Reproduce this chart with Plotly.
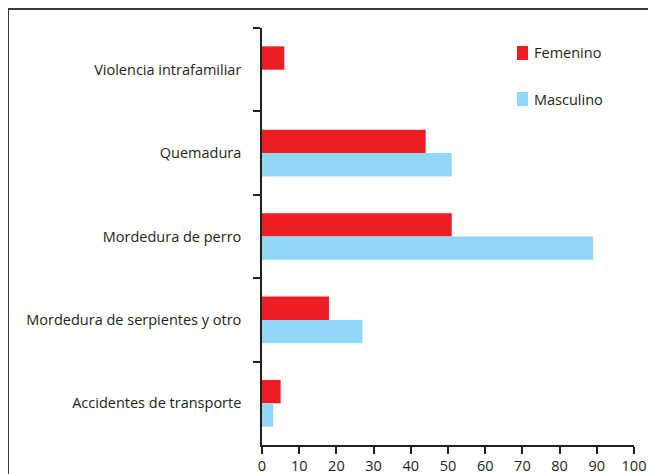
import plotly.graph_objects as go

categories = ["Violencia intrafamiliar", "Quemadura", "Mordedura de perro",
              "Mordedura de serpientes y otro", "Accidentes de transporte"]
femenino = [6, 44, 51, 18, 5]
masculino = [0, 51, 89, 27, 3]
x_ticks = [0, 10, 20, 30, 40, 50, 60, 70, 80, 90, 100]
series_names = ["Femenino", "Masculino"]
series_colors = ["#ee1d24", "#8fd8f6"]

# the page body has an 8px default margin; target picture coordinates are page coords
O = 8
W, H = 656 - O, 474 - O
# plot area in page coords: x 262..634, y 28..445
L, R, T, B = 262 - O, 656 - 634, 28 - O, 474 - 445
pw, ph = W - L - R, H - T - B

font = dict(family="'Open Sans', sans-serif", size=14.5, color="#231f20")

fig = go.Figure()
for name, vals, col in zip(series_names, [femenino, masculino], series_colors):
    fig.add_trace(go.Bar(y=categories, x=vals, name=name, orientation="h",
                         marker=dict(color=col, line=dict(width=0)),
                         showlegend=False))

def px_x(p):
    return (p - O - L) / pw

def px_y(p):
    return 1 - (p - O - T) / ph

shapes = [
    dict(type="line", xref="paper", yref="paper",
         x0=px_x(8), x1=px_x(660), y0=px_y(9), y1=px_y(9),
         line=dict(color="#3a3a3a", width=2)),
    dict(type="line", xref="paper", yref="paper",
         x0=px_x(8), x1=px_x(8), y0=px_y(9), y1=px_y(480),
         line=dict(color="#3a3a3a", width=2)),
]
annotations = []
leg_y = [53, 99]
for name, col, cy in zip(series_names, series_colors, leg_y):
    shapes.append(dict(type="rect", xref="paper", yref="paper",
                       x0=px_x(517), x1=px_x(528), y0=px_y(cy - 7), y1=px_y(cy + 7),
                       fillcolor=col, line=dict(width=0)))
    annotations.append(dict(xref="paper", yref="paper", x=px_x(532), y=px_y(cy),
                            text=name, showarrow=False, xanchor="left", yanchor="middle",
                            font=dict(size=14.5, color="#231f20")))

axis_common = dict(showgrid=False, zeroline=False, showline=True,
                   linecolor="#231f20", linewidth=1.5, ticks="outside", ticklen=7,
                   tickwidth=1.5, tickcolor="#231f20", automargin=False, fixedrange=True)

fig.update_layout(
    width=W, height=H,
    margin=dict(l=L, r=R, t=T, b=B),
    paper_bgcolor="white", plot_bgcolor="white",
    font=font,
    barmode="group", bargap=0.44, bargroupgap=0,
    xaxis=dict(range=[0, 100], tickvals=x_ticks, **axis_common),
    yaxis=dict(autorange="reversed", tickson="boundaries", ticklabelstandoff=16,
               **axis_common),
    shapes=shapes,
    annotations=annotations,
)

fig.write_html("out.html")
